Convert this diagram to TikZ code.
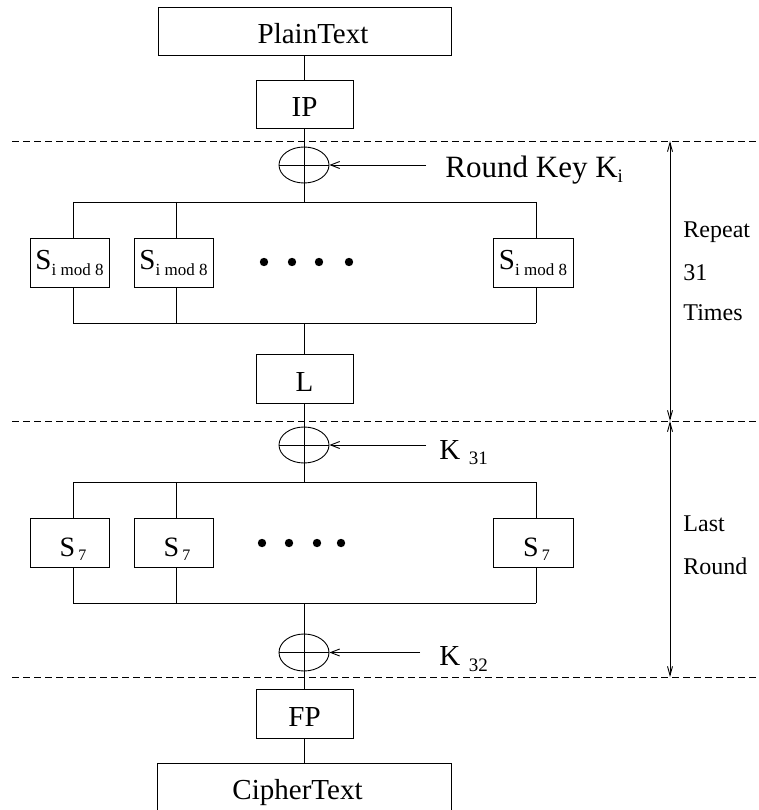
\documentclass[tikz,border=0pt]{standalone}
\usepackage{fontspec}
\setmainfont{Liberation Serif}
\usetikzlibrary{arrows.meta,shapes.geometric}

\begin{document}
\begin{tikzpicture}[x=1pt,y=-1pt,line width=0.9pt,
  box/.style={draw,inner sep=0pt,minimum height=49pt,text height=26pt,text depth=0pt,
    font=\fontsize{29}{30}\selectfont},
  sbox/.style={draw,inner sep=0pt,minimum width=79pt,minimum height=49pt,text depth=0pt},
  xor/.style={draw,ellipse,inner sep=0pt,minimum width=50pt,minimum height=36pt},
  sep/.style={dash pattern=on 6.5pt off 4.5pt},
  tip/.style={-{Straight Barb[length=9pt,width=7pt]}},
  span/.style={{Straight Barb[length=9pt,width=5pt]}-{Straight Barb[length=9pt,width=5pt]}},
  lab/.style={anchor=base west,inner sep=0pt,font=\fontsize{29}{30}\selectfont},
  side/.style={anchor=base west,inner sep=0pt,font=\fontsize{24}{25}\selectfont},
]
\useasboundingbox (0,0) rectangle (759,810);
\clip (0,0) rectangle (759,810);

% ---- boxes along the main data path
\node[box,minimum width=293pt,minimum height=48pt] (plain) at (304.5,31) {\hspace*{17pt}PlainText};
\node[box,minimum width=97pt,minimum height=48pt] (ip) at (304.5,104) {IP};
\node[box,minimum width=97pt] (lin) at (304.5,378.5) {L};
\node[box,minimum width=97pt] (fp) at (304.5,713.5) {FP};
\node[box,minimum width=294pt,minimum height=70pt,text height=2pt] (cipher) at (304,798) {CipherText\hspace*{13pt}};

% ---- key-mixing XOR gates
\node[xor] (x1) at (304,165) {};
\node[xor] (x2) at (304,445) {};
\node[xor,minimum height=37pt] (x3) at (304,652.5) {};
\foreach \g in {x1,x2,x3}{
  \draw (\g.north) -- (\g.south);
  \draw (\g.west) -- (\g.east);
}

% ---- S-box layer of the repeated round
\node[sbox,text height=14pt,font=\fontsize{29}{30}\selectfont] (sa1) at (69.5,262.5)
  {S\raisebox{-5.5pt}{\fontsize{17}{17}\selectfont i mod 8}};
\node[sbox,text height=14pt,font=\fontsize{29}{30}\selectfont] (sa2) at (173.5,262.5)
  {S\raisebox{-5.5pt}{\fontsize{17}{17}\selectfont i mod 8}};
\node[sbox,minimum width=80pt,text height=14pt,font=\fontsize{29}{30}\selectfont] (sa3) at (533,262.5)
  {S\raisebox{-5.5pt}{\fontsize{17}{17}\selectfont i mod 8}};

% ---- S-box layer of the last round
\node[sbox,text height=27pt,font=\fontsize{28}{29}\selectfont] (sb1) at (69.5,542.5)
  {\hspace*{7pt}S\hspace{3pt}\raisebox{-4pt}{\fontsize{16}{16}\selectfont 7}};
\node[sbox,text height=27pt,font=\fontsize{28}{29}\selectfont] (sb2) at (173.5,542.5)
  {\hspace*{7pt}S\hspace{3pt}\raisebox{-4pt}{\fontsize{16}{16}\selectfont 7}};
\node[sbox,minimum width=80pt,text height=27pt,font=\fontsize{28}{29}\selectfont] (sb3) at (533,542.5)
  {\hspace*{7pt}S\hspace{3pt}\raisebox{-4pt}{\fontsize{16}{16}\selectfont 7}};

% ---- elided S-boxes
\foreach \x in {264,292,319,349} \fill (\x,262) circle[radius=4.2pt];
\foreach \x in {262,289,317,341} \fill (\x,543) circle[radius=4.2pt];

% ---- bus rails
\coordinate (a1l) at (73,202);   \coordinate (a1c) at (304,202);   \coordinate (a1r) at (536,202);
\coordinate (a2l) at (73,323);   \coordinate (a2c) at (304,323);   \coordinate (a2r) at (536,323);
\coordinate (a3) at (176,202);   \coordinate (a4) at (176,323);
\coordinate (b1l) at (73,482);   \coordinate (b1c) at (304,482);   \coordinate (b1r) at (536,482);
\coordinate (b2l) at (73,603);   \coordinate (b2c) at (304,603);   \coordinate (b2r) at (536,603);
\coordinate (b3) at (176,482);   \coordinate (b4) at (176,603);

\draw (a1l) -- (a1r);  \draw (a2l) -- (a2r);
\draw (b1l) -- (b1r);  \draw (b2l) -- (b2r);

\draw (a1l) -- (a1l |- sa1.north);  \draw (a2l) -- (a2l |- sa1.south);
\draw (a3)  -- (a3  |- sa2.north);  \draw (a4)  -- (a4  |- sa2.south);
\draw (a1r) -- (a1r |- sa3.north);  \draw (a2r) -- (a2r |- sa3.south);
\draw (b1l) -- (b1l |- sb1.north);  \draw (b2l) -- (b2l |- sb1.south);
\draw (b3)  -- (b3  |- sb2.north);  \draw (b4)  -- (b4  |- sb2.south);
\draw (b1r) -- (b1r |- sb3.north);  \draw (b2r) -- (b2r |- sb3.south);

% ---- main vertical flow
\draw (x1.north |- plain.south) -- (x1.north |- ip.north);
\draw (x1.north |- ip.south) -- (x1.north);
\draw (x1.south) -- (a1c);
\draw (a2c) -- (a2c |- lin.north);
\draw (a2c |- lin.south) -- (x2.north);
\draw (x2.south) -- (b1c);
\draw (b2c) -- (x3.north);
\draw (x3.south) -- (x3.south |- fp.north);
\draw (x3.south |- fp.south) -- (x3.south |- cipher.north);

% ---- round keys
\coordinate (k1) at (426,165);
\coordinate (k2) at (426,445);
\coordinate (k3) at (420,652.5);
\draw[tip] (k1) -- (x1.east);
\draw[tip] (k2) -- (x2.east);
\draw[tip] (k3) -- (x3.east);

\node[lab,font=\fontsize{31}{32}\selectfont] (rk) at (445,178)
  {Round Key K\raisebox{-5pt}{\fontsize{19}{19}\selectfont i}};
\node[lab] (k31) at (439,459)
  {K\hspace{8.5pt}\raisebox{-5pt}{\fontsize{19}{19}\selectfont 31}};
\node[lab] (k32) at (439,665)
  {K\hspace{8.5pt}\raisebox{-6pt}{\fontsize{19}{19}\selectfont 32}};

% ---- round separators
\coordinate (d1l) at (12,141);  \coordinate (d1r) at (759,141);
\coordinate (d2l) at (12,421);  \coordinate (d2r) at (759,421);
\coordinate (d3l) at (12,677);  \coordinate (d3r) at (759,677);
\draw[sep] (d1l) -- (d1r);
\draw[sep] (d2l) -- (d2r);
\draw[sep] (d3l) -- (d3r);

% ---- extent markers
\coordinate (ra) at (670,141);
\coordinate (rb) at (670,421);
\coordinate (rc) at (670,677);
\draw[span] (ra) -- (rb);
\draw[span] (rb) -- (rc);

\node[side] (t1) at (683,237) {Repeat};
\node[side] (t2) at (683,280) {31};
\node[side] (t3) at (683,320) {Times};
\node[side] (t4) at (683,531) {Last};
\node[side] (t5) at (683,574) {Round};
\end{tikzpicture}
\end{document}
